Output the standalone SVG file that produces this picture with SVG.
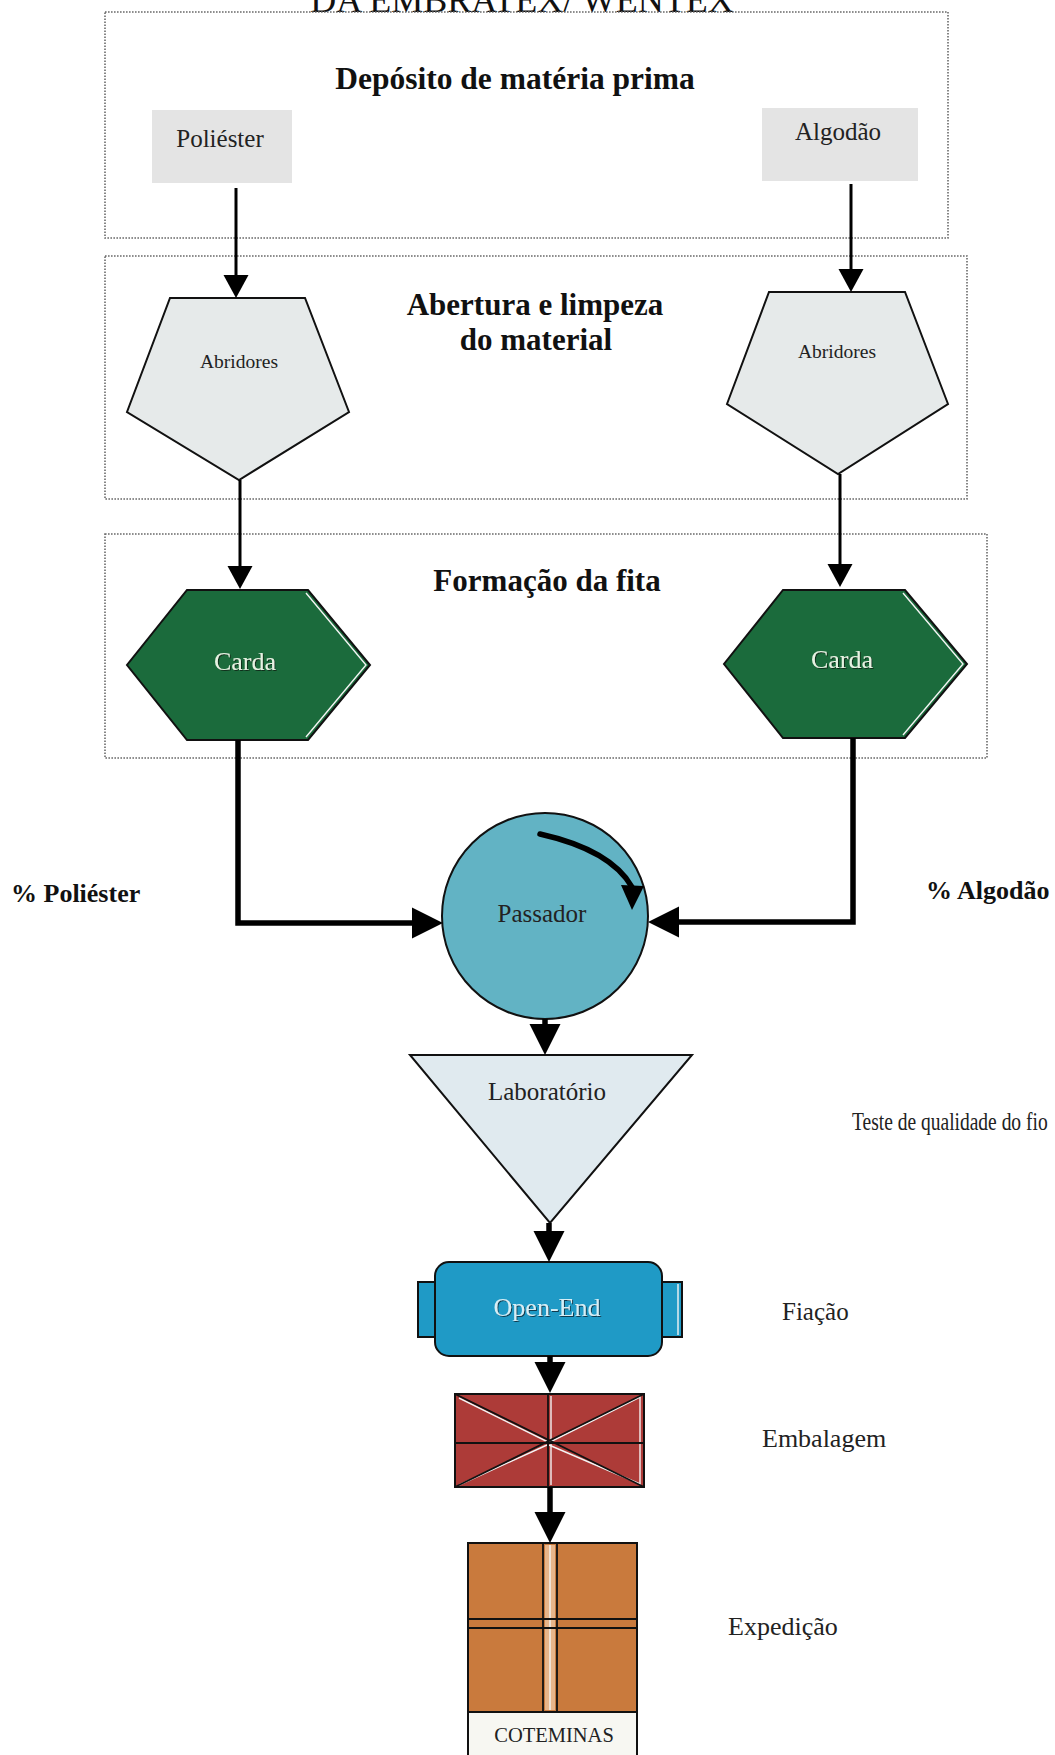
<svg xmlns="http://www.w3.org/2000/svg" width="1055" height="1755" viewBox="0 0 1055 1755">
<defs>
<style>
.serif{font-family:"Liberation Serif","Times New Roman",serif;}
.head{font-family:"Liberation Serif","Times New Roman",serif;font-weight:bold;fill:#111;text-anchor:middle;}
.lbl{font-family:"Liberation Serif","Times New Roman",serif;fill:#222;}
.frame{fill:none;stroke:#6a6a6a;stroke-width:1.6;stroke-dasharray:1.6 1.4;}
.ln{fill:none;stroke:#000;stroke-linejoin:miter;}
.thin{stroke-width:3;}
.thick{stroke-width:5.5;}
.edge{stroke:#111;stroke-width:2;}
.hl{fill:none;stroke:#f4f4f4;stroke-width:1.4;}
</style>
<marker id="ahS" markerUnits="userSpaceOnUse" markerWidth="26" markerHeight="26" refX="0" refY="13" orient="auto" viewBox="0 0 24 26">
<path d="M0,0.5 L23,13 L0,25.5 Z" fill="#000"/>
</marker>
<marker id="ahL" markerUnits="userSpaceOnUse" markerWidth="32" markerHeight="32" refX="0" refY="15.5" orient="auto" viewBox="0 0 31 31">
<path d="M0,0.5 L30,15.5 L0,30.5 Z" fill="#000"/>
</marker>
<filter id="sh" x="-10%" y="-10%" width="130%" height="140%">
<feDropShadow dx="1" dy="1" stdDeviation="0.4" flood-color="#0a2a18" flood-opacity="0.9"/>
</filter>
<filter id="shb" x="-10%" y="-10%" width="130%" height="140%">
<feDropShadow dx="1" dy="1" stdDeviation="0.4" flood-color="#0b3040" flood-opacity="0.9"/>
</filter>
</defs>
<rect width="1055" height="1755" fill="#fff"/>

<g id="title">
<text class="serif" x="522" y="12" font-size="36" text-anchor="middle" fill="#111">DA EMBRATEX/ WENTEX</text>
</g>

<g id="stage-deposito">
<rect class="frame" x="105" y="12" width="843" height="226"/>
<text class="head" x="515" y="89" font-size="31.5">Depósito de matéria prima</text>
</g>
<g id="stage-abertura">
<rect class="frame" x="105" y="256" width="862" height="243"/>
<text class="head" x="535" y="315" font-size="31">Abertura e limpeza</text>
<text class="head" x="536" y="350" font-size="31">do material</text>
</g>
<g id="stage-formacao">
<rect class="frame" x="105" y="534" width="882" height="224"/>
<text class="head" x="547" y="591" font-size="31">Formação da fita</text>
</g>

<g id="poliester">
<rect x="152" y="110" width="140" height="73" fill="#e4e4e4"/>
<text class="lbl" x="220" y="147" font-size="25" text-anchor="middle">Poliéster</text>
</g>
<g id="algodao">
<rect x="762" y="108" width="156" height="73" fill="#e4e4e4"/>
<text class="lbl" x="838" y="140" font-size="25" text-anchor="middle">Algodão</text>
</g>

<g id="abridores-1">
<polygon points="170,298 305,298 349,412 239,480 127,412" fill="#e6eaea" class="edge"/>
<text class="lbl" x="239" y="368" font-size="19.5" text-anchor="middle">Abridores</text>
</g>
<g id="abridores-2">
<polygon points="769,292 905,292 948,404 838,474 727,404" fill="#e6eaea" class="edge"/>
<text class="lbl" x="837" y="358" font-size="19.5" text-anchor="middle">Abridores</text>
</g>

<g id="carda-1">
<polygon points="187,590 308,590 370,665 308,740 187,740 127,665" fill="#1b6b3c" class="edge"/>
<polyline class="hl" points="306,593 366,665 306,737"/>
<text class="serif" x="245" y="670" font-size="26" text-anchor="middle" fill="#e6f2e2" filter="url(#sh)">Carda</text>
</g>
<g id="carda-2">
<polygon points="783,590 905,590 967,664 905,738 783,738 724,664" fill="#1b6b3c" class="edge"/>
<polyline class="hl" points="903,593 963,664 903,735"/>
<text class="serif" x="842" y="668" font-size="26" text-anchor="middle" fill="#e6f2e2" filter="url(#sh)">Carda</text>
</g>

<g id="label-poliester-pct">
<text class="serif" x="11" y="902" font-size="26" font-weight="bold" fill="#111">% Poliéster</text>
</g>
<g id="label-algodao-pct">
<text class="serif" x="926" y="899" font-size="26" font-weight="bold" fill="#111">% Algodão</text>
</g>

<g id="passador">
<circle cx="545" cy="916" r="103" fill="#62b3c4" class="edge"/>
<path d="M540,834 Q611,850 632,887" fill="none" stroke="#000" stroke-width="5.5" stroke-linecap="round"/>
<polygon points="621,885 644,886 632,910" fill="#000"/>
<text class="lbl" x="542" y="922" font-size="25" text-anchor="middle" fill="#1a2a30">Passador</text>
</g>

<g id="laboratorio">
<polygon points="410,1055 692,1055 550,1223" fill="#e0eaef" class="edge"/>
<text class="lbl" x="547" y="1100" font-size="25" text-anchor="middle">Laboratório</text>
</g>
<g id="label-teste" transform="translate(852,1130) scale(1,1.25)">
<text class="lbl" x="0" y="0" font-size="19.5">Teste de qualidade do fio</text>
</g>

<g id="open-end">
<rect x="418" y="1282" width="19" height="55" fill="#1f9ac6" class="edge"/>
<rect x="660" y="1282" width="22" height="55" fill="#1f9ac6" class="edge"/>
<line class="hl" x1="678" y1="1284" x2="678" y2="1335"/>
<rect x="435" y="1262" width="227" height="94" rx="14" ry="14" fill="#1f9ac6" class="edge"/>
<text class="serif" x="547" y="1316" font-size="26" text-anchor="middle" fill="#d6eef6" filter="url(#shb)">Open-End</text>
</g>
<g id="label-fiacao">
<text class="lbl" x="782" y="1320" font-size="25">Fiação</text>
</g>

<g id="embalagem">
<rect x="455" y="1394" width="189" height="93" fill="#ad3b38" class="edge"/>
<g class="hl">
<line x1="459" y1="1398" x2="548" y2="1442"/>
<line x1="640" y1="1484" x2="549" y2="1445"/>
<line x1="459" y1="1485" x2="547" y2="1445"/>
<line x1="640" y1="1397" x2="550" y2="1442"/>
<line x1="551" y1="1396" x2="551" y2="1485"/>
<line x1="640" y1="1396" x2="640" y2="1485"/>
</g>
<g stroke="#111" stroke-width="1.8">
<line x1="455" y1="1394" x2="644" y2="1487"/>
<line x1="644" y1="1394" x2="455" y2="1487"/>
<line x1="455" y1="1443" x2="644" y2="1443"/>
<line x1="548" y1="1394" x2="548" y2="1487"/>
</g>
</g>
<g id="label-embalagem">
<text class="lbl" x="762" y="1447" font-size="26">Embalagem</text>
</g>

<g id="expedicao">
<rect x="468" y="1543" width="169" height="169" fill="#c97a3d" class="edge"/>
<rect x="545" y="1545" width="10" height="165" fill="#e8b58a"/>
<line class="hl" x1="550" y1="1545" x2="550" y2="1710"/>
<g stroke="#111" stroke-width="1.8">
<line x1="543" y1="1543" x2="543" y2="1712"/>
<line x1="557" y1="1543" x2="557" y2="1712"/>
<line x1="468" y1="1619" x2="637" y2="1619"/>
<line x1="468" y1="1628" x2="637" y2="1628"/>
</g>
<rect x="468" y="1712" width="169" height="50" fill="#f7f7f2" class="edge"/>
<text class="serif" x="554" y="1742" font-size="20.5" text-anchor="middle" fill="#222">COTEMINAS</text>
</g>
<g id="label-expedicao">
<text class="lbl" x="728" y="1635" font-size="26">Expedição</text>
</g>

<g id="connectors">
<path class="ln thin" d="M236,188 L236,275" marker-end="url(#ahS)"/>
<path class="ln thin" d="M851,184 L851,269" marker-end="url(#ahS)"/>
<path class="ln thin" d="M240,480 L240,566" marker-end="url(#ahS)"/>
<path class="ln thin" d="M840,474 L840,564" marker-end="url(#ahS)"/>
<path class="ln thick" d="M238,740 L238,923 L412,923" marker-end="url(#ahL)"/>
<path class="ln thick" d="M853,738 L853,922 L679,922" marker-end="url(#ahL)"/>
<path class="ln thick" d="M545,1019 L545,1024" marker-end="url(#ahL)"/>
<path class="ln thick" d="M549,1223 L549,1231" marker-end="url(#ahL)"/>
<path class="ln thick" d="M550,1356 L550,1362" marker-end="url(#ahL)"/>
<path class="ln thick" d="M550,1487 L550,1512" marker-end="url(#ahL)"/>
</g>
</svg>
